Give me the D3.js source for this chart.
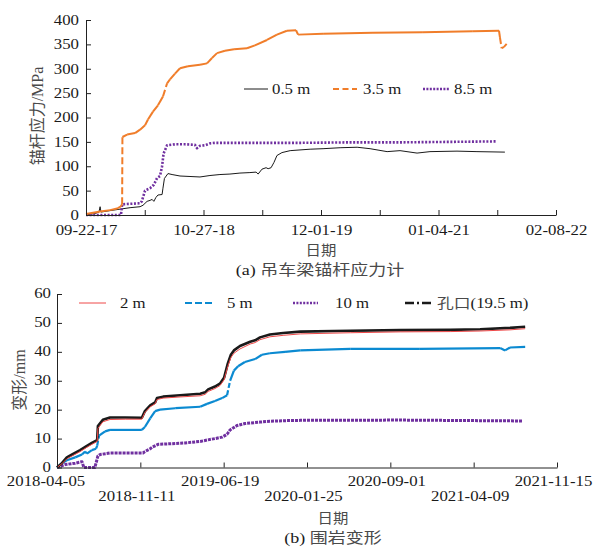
<!DOCTYPE html>
<html><head><meta charset="utf-8">
<script src="https://cdn.jsdelivr.net/npm/d3@7"></script>
<style>body{margin:0;background:#fff}</style>
</head><body>
<svg id="c" width="594" height="548"></svg>
<script>
// ---------- (a) anchor stress ----------
const startA = "2017-09-22";
const tickDatesA = ["2017-09-22","2018-04-10","2018-10-27","2019-05-15","2019-12-01","2020-06-18","2021-01-04","2021-07-23","2022-02-08"];
const yTicksA = [0,50,100,150,200,250,300,350,400];
const seriesNamesA = ["0.5 m","3.5 m","8.5 m"];

const daysA05 = [0,31,44,48,51,82,116,150,184,194,208,218,225,231,238,245,259,262,267,279,293,320,354,388,422,456,490,524,558,579,586,599,613,620,630,640,650,667,695,763,807,865,923,967,1025,1069,1127,1171,1263,1331,1426];
const valsA05 = [0,3,6,17,6,9,12,15,17,20,28,30,32,28,36,41,42,55,75,85,83,80,79,78,81,83,84,86,87,88,84,94,97,95,97,108,122,128,132,135,136,138,139,136,130,132,127,130,131,130,129];

const daysA35 = [0,48,82,109,119,123,124,140,167,184,201,211,228,245,262,276,286,303,320,347,388,412,429,446,473,504,548,575,616,650,684,715,722,807,977,1147,1317,1406,1409,1415,1423,1432];
const valsA35 = [2,7,10,14,18,22,160,165,168,175,184,196,212,225,243,270,278,290,301,305,308,311,322,332,337,340,342,348,359,370,378,379,370,372,374,375,377,378,365,342,345,351];

const daysA85 = [0,119,123,150,184,190,201,218,231,242,252,259,264,276,303,337,371,378,388,405,422,439,558,728,899,1069,1239,1399];
const valsA85 = [0,0,22,23,24,28,50,55,62,76,80,100,126,143,145,145,144,137,142,143,147,148,148,148,149,149,150,151];

// ---------- (b) rock deformation ----------
const startB = "2018-04-05";
const tickDatesB = ["2018-04-05","2018-11-11","2019-06-19","2020-01-25","2020-09-01","2021-04-09","2021-11-15"];
const yTicksB = [0,10,20,30,40,50,60];
const seriesNamesB = ["2 m","5 m","10 m","孔口"];

const daysB2 = [0,13,26,40,61,79,92,106,108,121,140,180,224,232,246,259,264,280,325,378,391,399,417,430,441,451,459,467,483,510,523,536,562,597,642,774,906,1038,1117,1196,1236];
const valsB2 = [0,1.3,3,4,5.5,7,8,9,13.5,15.8,16.6,16.7,16.7,19,21,22,23.5,24,24.4,24.8,25.3,26.3,27.3,28.3,30.3,35,38,39.5,41,42.7,43.2,44.2,45.2,45.7,46.2,46.6,46.9,47,47.2,47.6,48];
const daysBmouth = daysB2;
const valsBmouth = [0,1.5,3.5,4.5,6,7.5,8.5,9.5,14.3,16.5,17.3,17.3,17.2,19.5,21.5,22.5,24,24.5,25,25.5,26,27,28,29,31,36,39,40.5,42,43.5,44,45,46,46.5,47,47.3,47.5,47.6,47.8,48.3,48.7];
const daysB5 = [0,13,26,48,66,74,79,92,103,106,111,127,140,224,232,246,259,272,312,378,396,417,436,449,457,467,478,496,523,541,562,602,642,774,958,1170,1183,1196,1236];
const valsB5 = [0,1.5,2.5,3.5,4.5,5.5,4.8,6,6.5,7.5,11,12.5,13,13,14,17,19.5,20,20.5,21,22,23,24,25,30,33.5,35,36.5,37.5,39,39.5,40,40.5,41,41,41.3,40.5,41.5,41.7];
const daysB10 = [0,21,48,66,71,100,108,114,140,227,232,246,251,267,298,338,378,396,417,436,449,457,475,496,536,562,602,642,906,1230];
const valsB10 = [0,1,1.5,2,0,0,4,4.5,5,5,5.5,6.5,7,8,8.2,8.5,9,9.5,10,10.5,11.5,13,14.5,15.2,15.7,16,16.2,16.3,16.4,16.1];

// ---------- rendering ----------
const parse = d3.timeParse("%Y-%m-%d");
const SERIF = "'Liberation Serif','Times New Roman',serif";
const SANS = "'Noto Sans CJK SC','Noto Sans',sans-serif";
const SX = 1.2;
const TXT = "#1a1a1a", CJK = "#4a4a4a";
const svg = d3.select("#c");

function series(start, days, vals) {
  const s = parse(start);
  return days.map((d, i) => ({date: d3.timeDay.offset(s, d), v: vals[i]}));
}

function drawSeries(g, x, y, data, st) {
  const line = d3.line().x(d => x(d.date)).y(d => y(d.v));
  if (st.steepDash) {
    d3.pairs(data).forEach(([a, b]) => {
      const dx = Math.abs(x(b.date) - x(a.date)), dy = Math.abs(y(b.v) - y(a.v));
      g.append("path").attr("d", line([a, b])).attr("fill", "none")
        .attr("stroke", st.color).attr("stroke-width", st.width)
        .attr("stroke-dasharray", dy > 3 * dx && dy > 8 ? st.steepDash : null);
    });
  } else {
    g.append("path").attr("d", line(data)).attr("fill", "none")
      .attr("stroke", st.color).attr("stroke-width", st.width)
      .attr("stroke-linejoin", "round")
      .attr("stroke-dasharray", st.dash || null);
  }
}

function styleAxis(ax) {
  ax.select(".domain").attr("stroke", "#222");
  ax.selectAll(".tick line").attr("stroke", "#222");
  ax.selectAll(".tick text").attr("font-family", SERIF).attr("font-size", 14).attr("fill", TXT);
}

function label(x, y, parts, size, anchor, sx) {
  const t = svg.append("text").attr("transform", `translate(${x},${y}) scale(${sx},1)`)
    .attr("text-anchor", anchor).attr("font-size", size);
  parts.forEach(p => t.append("tspan").text(p[0])
    .attr("font-family", p[1] ? SANS : SERIF).attr("fill", p[1] ? CJK : TXT));
  return t;
}

function legendItem(x1, x2, ly, st, textX, parts) {
  svg.append("line").attr("x1", x1).attr("x2", x2).attr("y1", ly).attr("y2", ly)
    .attr("stroke", st.color).attr("stroke-width", st.lw || st.width)
    .attr("stroke-dasharray", st.legendDash || null);
  label(textX, ly + 4.5, parts, 14, "start", SX);
}

// ===== Chart (a) =====
{
  const x = d3.scaleTime().domain([parse(tickDatesA[0]), parse(tickDatesA[tickDatesA.length - 1])]).range([86, 556]);
  const y = d3.scaleLinear().domain([0, 400]).range([215, 20]);
  const fmt = d3.timeFormat("%m-%d-%y");
  const g = svg.append("g");

  const st05 = {color: "#1a1a1a", width: 1};
  const st35 = {color: "#f07d2a", width: 2, steepDash: "7,3", legendDash: "6,3.5", lw: 2};
  const st85 = {color: "#7030a0", width: 2.6, dash: "2,1.6", legendDash: "2,1.4", lw: 2.6};

  drawSeries(g, x, y, series(startA, daysA05, valsA05), st05);
  drawSeries(g, x, y, series(startA, daysA85, valsA85), st85);
  drawSeries(g, x, y, series(startA, daysA35, valsA35), st35);

  const xa = svg.append("g").attr("transform", "translate(0,215)")
    .call(d3.axisBottom(x).tickValues(tickDatesA.map(parse)).tickSizeInner(-5).tickSizeOuter(0)
      .tickFormat((d, i) => i % 2 === 0 ? fmt(d) : ""));
  styleAxis(xa);
  xa.selectAll(".tick text").attr("y", 20).attr("dy", 0).attr("transform", `scale(${SX},1)`);

  const ya = svg.append("g").attr("transform", "translate(86,0)")
    .call(d3.axisLeft(y).tickValues(yTicksA).tickSizeInner(-5).tickSizeOuter(0).tickPadding(0));
  styleAxis(ya);
  ya.selectAll(".tick text").attr("x", -7 / SX).attr("transform", `scale(${SX},1)`);

  legendItem(244, 268, 89, st05, 272, [[seriesNamesA[0]]]);
  legendItem(333, 357, 89, st35, 363, [[seriesNamesA[1]]]);
  legendItem(423, 449, 89, st85, 454, [[seriesNamesA[2]]]);

  label(321, 255, [["日期", 1]], 14, "middle", 1.1);
  label(320, 275, [["(a) "], ["吊车梁锚杆应力计", 1]], 15, "middle", SX);

  const yl = svg.append("text").attr("transform", "translate(43,116) rotate(-90)")
    .attr("text-anchor", "middle").attr("font-size", 16);
  yl.append("tspan").text("锚杆应力").attr("font-family", SANS).attr("fill", CJK);
  yl.append("tspan").text("/MPa").attr("font-family", SERIF).attr("fill", CJK);
}

// ===== Chart (b) =====
{
  const x = d3.scaleTime().domain([parse(tickDatesB[0]), parse(tickDatesB[tickDatesB.length - 1])]).range([57, 557]);
  const y = d3.scaleLinear().domain([0, 60]).range([467.5, 294]);
  const fmt = d3.timeFormat("%Y-%m-%d");
  const g = svg.append("g");

  const st2 = {color: "#ee4848", width: 1};
  const st5 = {color: "#0b8ad1", width: 2.2, steepDash: "5,2.5", legendDash: "7,3", lw: 2.2};
  const st10 = {color: "#7030a0", width: 3, dash: "3,1", legendDash: "2,1.4", lw: 2.6};
  const stM = {color: "#1a1a1a", width: 2.6, legendDash: "9,3,2,3", lw: 2.6};

  drawSeries(g, x, y, series(startB, daysB10, valsB10), st10);
  drawSeries(g, x, y, series(startB, daysB5, valsB5), st5);
  drawSeries(g, x, y, series(startB, daysBmouth, valsBmouth), stM);
  drawSeries(g, x, y, series(startB, daysB2, valsB2), st2);

  const xa = svg.append("g").attr("transform", "translate(0,467.5)")
    .call(d3.axisBottom(x).tickValues(tickDatesB.map(parse)).tickSizeInner(-5).tickSizeOuter(0).tickFormat(fmt));
  styleAxis(xa);
  xa.selectAll(".tick text")
    .attr("y", (d, i) => i % 2 === 0 ? 18.5 : 34).attr("dy", 0)
    .attr("x", (d, i) => (i === 0 ? -11.5 : -4) / SX)
    .attr("transform", `scale(${SX},1)`);

  const ya = svg.append("g").attr("transform", "translate(57,0)")
    .call(d3.axisLeft(y).tickValues(yTicksB).tickSizeInner(-5).tickSizeOuter(0).tickPadding(0));
  styleAxis(ya);
  ya.selectAll(".tick text").attr("x", -6 / SX).attr("dy", "0.28em").attr("transform", `scale(${SX},1)`);

  legendItem(79, 106, 303, st2, 120, [[seriesNamesB[0]]]);
  legendItem(185, 212, 303, st5, 227, [[seriesNamesB[1]]]);
  legendItem(293, 318, 303, st10, 335, [[seriesNamesB[2]]]);
  legendItem(405, 433, 303, stM, 437, [[seriesNamesB[3], 1], ["(19.5 m)"]]);

  label(333, 523, [["日期", 1]], 14, "middle", 1.1);
  label(333, 543, [["(b) "], ["围岩变形", 1]], 15, "middle", SX);

  const yl = svg.append("text").attr("transform", "translate(25,380) rotate(-90)")
    .attr("text-anchor", "middle").attr("font-size", 16);
  yl.append("tspan").text("变形").attr("font-family", SANS).attr("fill", CJK);
  yl.append("tspan").text("/mm").attr("font-family", SERIF).attr("fill", CJK);
}
</script>
</body></html>
